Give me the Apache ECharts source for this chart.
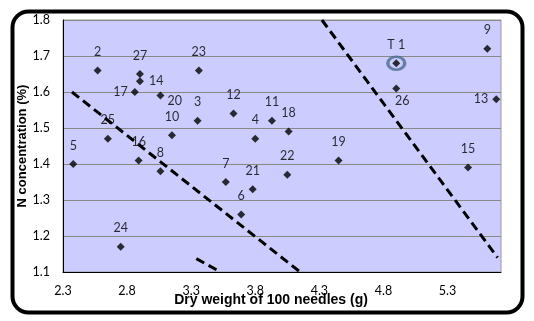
<!DOCTYPE html>
<html><head><meta charset="utf-8">
<script src="https://cdn.jsdelivr.net/npm/echarts@6/dist/echarts.min.js"></script>
<style>html,body{margin:0;padding:0;background:#fff}#c{width:534px;height:321px}</style>
</head><body><div id="c"></div>
<script>
// Data
const labels = ['T 1','2','3','4','5','6','7','8','9','10','11','12','13','14','15','16','17','18','19','20','21','22','23','24','25','26','27'];
const dryWeight = [4.90,2.57,3.35,3.80,2.38,3.69,3.57,3.06,5.61,3.15,3.93,3.63,5.68,2.90,5.46,2.89,2.86,4.06,4.45,3.06,3.78,4.05,3.36,2.75,2.65,4.90,2.90];
const nConc =     [1.68,1.66,1.52,1.47,1.40,1.26,1.35,1.38,1.72,1.48,1.52,1.54,1.58,1.63,1.39,1.41,1.60,1.49,1.41,1.59,1.33,1.37,1.66,1.17,1.47,1.61,1.65];
const highlighted = ['T 1'];
const line1X = [2.37, 4.15], line1Y = [1.60, 1.10];
const line2X = [3.34, 3.53], line2Y = [1.137, 1.10];
const line3X = [4.32, 5.69], line3Y = [1.80, 1.14];
const xTicks = ['2.3','2.8','3.3','3.8','4.3','4.8','5.3'];
const yTicks = ['1.1','1.2','1.3','1.4','1.5','1.6','1.7','1.8'];

// label placement (style only)
const labelPlace = {
  '14': {position:'right', distance:5},
  '17': {position:'left', distance:3},
  '20': {position:'right', distance:3, offset:[0,5]},
  '26': {position:'bottom', distance:2, offset:[6,0]},
  '13': {position:'left', distance:4}
};

const pts = labels.map((l,i)=>{
  const p = labelPlace[l] || {position:'top', distance:8};
  return {value:[dryWeight[i], nConc[i]], name:l, label:Object.assign({show:true, formatter:l}, p)};
});
const ring = labels.map((l,i)=>highlighted.includes(l)?[dryWeight[i],nConc[i]]:null).filter(Boolean);
const pair = (xs,ys)=>xs.map((x,i)=>[x,ys[i]]);
const dash = {color:'#000', width:3, type:[9,5]};
const font = 'Lato, "Open Sans", sans-serif';

const chart = echarts.init(document.getElementById('c'), null, {renderer:'canvas'});
chart.setOption({
  animation:false,
  backgroundColor:'#fff',
  grid:{left:63, right:33, top:20, bottom:49, show:true, backgroundColor:'#ccccff', borderColor:'#999', borderWidth:1},
  xAxis:{type:'value', min:2.3, max:5.717, interval:0.5,
    name:'Dry weight of 100 needles (g)', nameLocation:'middle', nameGap:21, nameMoveOverlap:false,
    nameTextStyle:{fontFamily:'"Liberation Sans", Arial, sans-serif', fontWeight:'bold', fontSize:14, color:'#000', padding:[0,22,0,0]},
    axisLine:{show:true, lineStyle:{color:'#000', width:1}}, axisTick:{show:false},
    splitLine:{show:false},
    axisLabel:{showMaxLabel:false, margin:12, fontFamily:font, fontSize:12.5, color:'#000',
      formatter:v=>{const s=v.toFixed(1); return xTicks.includes(s)?s:'';}}},
  yAxis:{type:'value', min:1.1, max:1.8, interval:0.1,
    name:'N concentration (%)', nameLocation:'middle', nameGap:34, nameRotate:90, nameMoveOverlap:false,
    nameTextStyle:{fontFamily:'"Liberation Sans", Arial, sans-serif', fontWeight:'bold', fontSize:13, color:'#000'},
    axisLine:{show:true, lineStyle:{color:'#000', width:1}}, axisTick:{show:false},
    splitLine:{show:true, lineStyle:{color:'#888', width:1}},
    axisLabel:{margin:13, fontFamily:font, fontSize:12.5, color:'#000',
      formatter:v=>{const s=v.toFixed(1); return yTicks.includes(s)?s:'';}}},
  series:[
    {type:'line', data:pair(line1X,line1Y), symbol:'none', lineStyle:dash, silent:true},
    {type:'line', data:pair(line2X,line2Y), symbol:'none', lineStyle:dash, silent:true},
    {type:'line', data:pair(line3X,line3Y), symbol:'none', lineStyle:dash, silent:true},
    {type:'scatter', data:ring, symbol:'circle', symbolSize:[17,13],
      itemStyle:{color:'rgba(0,0,0,0)', borderColor:'#4a6b8c', borderWidth:3}},
    {type:'scatter', data:pts, symbol:'diamond', symbolSize:8, itemStyle:{color:'#000'},
      label:{color:'#000', fontFamily:font, fontSize:12.5}}
  ],
  graphic:[{type:'rect', left:10, top:9, shape:{width:510, height:301, r:16}, style:{fill:null, stroke:'#000', lineWidth:4}, silent:true}]
});
</script></body></html>
